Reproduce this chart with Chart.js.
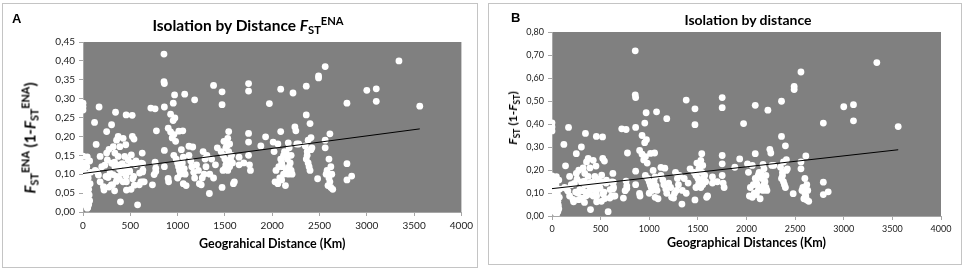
<!DOCTYPE html>
<html lang="en">
<head>
<meta charset="utf-8">
<title>Isolation by distance</title>
<script src="https://cdn.jsdelivr.net/npm/chart.js"></script>
<style>
  body { margin: 0; background: #fff; font-family: Lato, "Open Sans", sans-serif; width: 964px; height: 272px; position: relative; overflow: hidden; }
  .panel { position: absolute; border: 1px solid #c4c4c4; background: #fff; }
  #panelA { left: 2px; top: 3px; width: 474px; height: 263px; }
  #panelB { left: 488px; top: 3px; width: 472px; height: 260px; }
  .panel canvas { position: absolute; left: 0; top: 0; }
  .lbl { position: absolute; font-weight: bold; color: #000; white-space: nowrap; line-height: 1; }
  .letter { font-family: "Liberation Sans", Arial, sans-serif; font-size: 13px; }
  .ttl { transform: translate(-50%, -50%); }
  .ytl { transform: translate(-50%, -50%) rotate(-90deg); }
  .sub { font-size: 0.72em; position: relative; top: 0.3em; }
  .sup { font-size: 0.72em; position: relative; top: -0.55em; }
</style>
</head>
<body>
  <!-- panel A -->
  <div class="panel" id="panelA">
    <canvas id="chartA" width="474" height="263"></canvas>
    <div class="lbl letter" style="left:9px; top:8px;">A</div>
    <div class="lbl ttl" style="left:245px; top:22px; font-size:15.5px;">Isolation by Distance <i>F</i><span class="sub">ST</span><span class="sup">ENA</span></div>
    <div class="lbl ytl" style="left:27px; top:134px; font-size:15px;"><i>F</i><span class="sub">ST</span><span class="sup">ENA</span> (1-<i>F</i><span class="sub">ST</span><span class="sup">ENA</span>)</div>
  </div>

  <!-- panel B -->
  <div class="panel" id="panelB">
    <canvas id="chartB" width="472" height="260"></canvas>
    <div class="lbl letter" style="left:22px; top:7px;">B</div>
    <div class="lbl ttl" style="left:259px; top:16px; font-size:14px;">Isolation by distance</div>
    <div class="lbl ytl" style="left:24px; top:114px; font-size:12px;"><i>F</i><span class="sub">ST</span> (1-<i>F</i><span class="sub">ST</span>)</div>
  </div>

<script>
// pairwise geographic distance (km), same pairs in both panels
const distanceKm = [
  0,0,0,0,45,70,5,10,0,15,
  5,20,10,25,5,20,10,30,15,40,
  30,50,60,70,65,60,75,55,80,40,
  30,50,35,25,45,20,122,139,170,129,
  163,181,198,216,243,222,250,257,275,302,
  285,313,337,344,355,372,390,372,390,355,
  407,424,396,441,459,476,459,494,511,539,
  522,456,520,556,535,459,577,598,626,633,
  616,633,320,337,250,181,146,424,452,230,
  303,334,386,415,508,490,560,630,630,265,
  317,352,300,386,334,276,438,456,525,543,
  508,612,647,595,717,762,776,762,769,752,
  734,769,856,856,860,860,860,860,900,905,
  926,971,953,901,926,961,1013,1055,943,979,
  968,954,1075,1180,960,985,1000,1010,1020,1030,
  1040,1060,1050,1070,1080,1060,1090,1000,1120,1160,
  1120,1140,1150,1170,1180,1200,1220,1230,1250,1270,
  1290,1300,1310,1260,1280,1336,1340,1380,1360,1400,
  1420,1380,1470,1470,1470,1490,1530,1540,1460,1480,
  1500,1510,1520,1500,1530,1550,1560,1540,1570,1580,
  1600,1590,1480,1510,1550,1520,1650,1650,1750,1750,
  1750,1750,1750,1760,1770,1700,1880,1930,1970,2010,
  2060,2090,2090,2020,2040,2030,2060,2080,2090,2100,
  2110,2120,2130,2140,2150,2160,2170,2170,2180,2190,
  2200,2210,2220,2100,2120,2150,2180,2070,2200,2240,
  2250,2260,2280,2360,2360,2400,2410,2380,2350,2370,
  2360,2380,2390,2400,2370,2410,2420,2490,2490,2480,
  2560,2560,2560,2610,2600,2580,2570,2600,2610,2620,
  2630,2640,2620,2590,2790,2790,2790,2840,3000,3100,
  3100,3340,3560
];

// panel A: FST ENA / (1 - FST ENA)
const fstENA = [
  .288,.279,.270,.148,.146,.135,.125,.115,.105,.095,
  .085,.078,.070,.062,.055,.048,.040,.035,.030,.025,
  .018,.012,.020,.030,.045,.060,.075,.090,.105,.120,
  .100,.070,.055,.085,.010,.130,.237,.179,.278,.110,
  .098,.080,.120,.067,.094,.058,.213,.138,.166,.231,
  .103,.072,.120,.264,.190,.200,.173,.147,.125,.094,
  .103,.080,.027,.147,.120,.138,.080,.107,.151,.193,
  .200,.257,.256,.125,.094,.058,.019,.103,.156,.080,
  .129,.111,.173,.156,.156,.147,.107,.195,.178,.124,
  .129,.132,.114,.128,.130,.110,.135,.128,.106,.091,
  .099,.081,.072,.087,.056,.066,.108,.095,.088,.071,
  .060,.080,.080,.072,.275,.273,.215,.132,.116,.099,
  .072,.107,.418,.345,.340,.278,.163,.120,.089,.080,
  .259,.249,.242,.222,.212,.205,.214,.215,.196,.187,
  .310,.288,.312,.297,.150,.140,.130,.120,.110,.100,
  .165,.145,.130,.115,.100,.075,.070,.090,.174,.172,
  .150,.135,.120,.105,.090,.125,.110,.075,.072,.160,
  .140,.120,.150,.090,.100,.049,.100,.335,.140,.125,
  .170,.090,.318,.284,.065,.187,.195,.213,.160,.150,
  .140,.170,.130,.115,.110,.120,.140,.160,.150,.130,
  .080,.075,.110,.125,.180,.175,.145,.125,.340,.320,
  .208,.185,.150,.125,.110,.130,.175,.199,.287,.185,
  .180,.325,.213,.160,.110,.080,.075,.090,.140,.130,
  .120,.150,.160,.070,.110,.140,.183,.100,.120,.130,
  .150,.100,.315,.085,.100,.155,.170,.120,.110,.225,
  .215,.180,.180,.333,.257,.234,.197,.190,.175,.160,
  .140,.130,.120,.110,.150,.165,.170,.360,.355,.088,
  .385,.190,.170,.207,.140,.110,.100,.090,.080,.120,
  .100,.060,.065,.070,.288,.128,.085,.095,.322,.326,
  .293,.400,.280
];

// panel B: FST / (1 - FST)
const fstRatio = [
  .405,.387,.370,.174,.171,.156,.143,.130,.117,.105,
  .093,.085,.075,.066,.058,.050,.042,.036,.031,.026,
  .018,.012,.020,.031,.047,.064,.081,.099,.117,.136,
  .111,.075,.058,.093,.010,.149,.311,.218,.385,.124,
  .109,.087,.136,.072,.104,.062,.271,.160,.199,.300,
  .115,.078,.136,.359,.235,.250,.209,.172,.143,.104,
  .115,.087,.028,.172,.136,.160,.087,.120,.178,.239,
  .250,.346,.344,.143,.104,.062,.019,.115,.185,.087,
  .148,.125,.209,.185,.185,.172,.120,.242,.217,.142,
  .148,.152,.129,.147,.149,.124,.156,.147,.119,.100,
  .110,.088,.078,.095,.059,.071,.121,.105,.096,.076,
  .064,.087,.087,.078,.379,.376,.274,.152,.131,.110,
  .078,.120,.718,.527,.515,.385,.195,.136,.098,.087,
  .350,.332,.319,.285,.269,.258,.272,.274,.244,.230,
  .449,.404,.453,.423,.176,.163,.149,.136,.124,.111,
  .198,.170,.149,.130,.111,.081,.075,.099,.211,.208,
  .176,.156,.136,.117,.099,.143,.124,.081,.078,.190,
  .163,.136,.176,.099,.111,.052,.111,.504,.163,.143,
  .205,.099,.466,.397,.070,.230,.242,.271,.190,.176,
  .163,.205,.149,.130,.124,.136,.163,.190,.176,.149,
  .087,.081,.124,.143,.220,.212,.170,.143,.515,.471,
  .263,.227,.176,.143,.124,.149,.212,.248,.402,.227,
  .220,.481,.271,.190,.124,.087,.081,.099,.163,.149,
  .136,.176,.190,.075,.124,.163,.224,.111,.136,.149,
  .176,.111,.460,.093,.111,.183,.205,.136,.124,.290,
  .274,.220,.220,.499,.346,.305,.245,.235,.212,.190,
  .163,.149,.136,.124,.176,.198,.205,.563,.550,.097,
  .626,.235,.205,.261,.163,.124,.111,.099,.087,.136,
  .111,.064,.070,.075,.404,.147,.093,.105,.475,.484,
  .414,.667,.389
];

// linear trend lines (end points)
const trendKm = [0, 3560];
const trendENA = [0.102, 0.220];
const trendRatio = [0.119, 0.288];

// grey plot background
const plotBg = {
  id: 'plotBg',
  beforeDraw(chart) {
    const { ctx, chartArea: a } = chart;
    ctx.save();
    ctx.fillStyle = '#808080';
    ctx.fillRect(a.left, a.top, a.width, a.height);
    ctx.restore();
  }
};

const axisGrey = '#a6a6a6';

function makeChart(id, ys, trendY, o) {
  const points = distanceKm.map((d, i) => ({ x: d, y: ys[i] }));
  const trend = trendKm.map((d, i) => ({ x: d, y: trendY[i] }));
  const tickFont = { family: 'Lato', size: o.tickSize };
  return new Chart(document.getElementById(id), {
    type: 'scatter',
    data: {
      datasets: [
        { data: trend, showLine: true, borderColor: '#000', borderWidth: 1, pointRadius: 0, order: 0 },
        { data: points, backgroundColor: '#fff', borderWidth: 0, pointRadius: 3.4, order: 1 }
      ]
    },
    options: {
      responsive: false,
      animation: false,
      devicePixelRatio: 1,
      layout: { padding: { top: o.top, right: o.right, left: 0, bottom: 0 } },
      plugins: { legend: { display: false }, tooltip: { enabled: false } },
      scales: {
        x: {
          type: 'linear', min: 0, max: 4000,
          afterFit: s => { s.height = o.xh; },
          ticks: { stepSize: 500, callback: v => String(v), color: '#222', font: tickFont, padding: 4, maxRotation: 0 },
          grid: { drawOnChartArea: false, tickLength: 4, color: axisGrey },
          border: { color: axisGrey },
          title: {
            display: true, text: o.xTitle, color: '#000',
            font: { family: 'Lato', size: 12.5, weight: 'bold' },
            padding: { top: 0, bottom: o.titlePad }
          }
        },
        y: {
          type: 'linear', min: 0, max: o.ymax,
          afterFit: s => { s.width = o.yw; },
          ticks: { stepSize: o.step, callback: v => v.toFixed(2).replace('.', ','), color: '#222', font: tickFont, padding: 4 },
          grid: { drawOnChartArea: false, tickLength: 4, color: axisGrey },
          border: { color: axisGrey }
        }
      }
    },
    plugins: [plotBg]
  });
}

makeChart('chartA', fstENA, trendENA, {
  top: 38, right: 11, xh: 55, yw: 80, ymax: 0.45, step: 0.05, tickSize: 10,
  xTitle: 'Geograhical Distance (Km)', titlePad: 16
});
makeChart('chartB', fstRatio, trendRatio, {
  top: 28, right: 20, xh: 48, yw: 63, ymax: 0.8, step: 0.1, tickSize: 9,
  xTitle: 'Geographical Distances (Km)', titlePad: 14
});
</script>
</body>
</html>
